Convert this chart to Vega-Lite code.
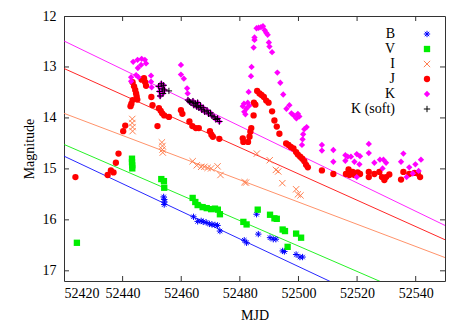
{
  "$schema": "https://vega.github.io/schema/vega-lite/v6.json",
  "width": 381,
  "height": 265,
  "autosize": "none",
  "padding": {"left": 64, "top": 16, "right": 22, "bottom": 46},
  "background": "white",
  "config": {
    "font": "Liberation Serif",
    "view": {"stroke": "#333", "strokeWidth": 1},
    "axis": {"grid": false, "domain": false, "ticks": false, "tickSize": 0, "labelFont": "Liberation Serif", "labelFontSize": 14, "labelColor": "black", "titleFont": "Liberation Serif", "titleFontSize": 14, "titleFontWeight": "normal", "titleColor": "black"},
    "legend": {"labelFont": "Liberation Serif", "labelFontSize": 14, "labelColor": "black", "orient": "none", "legendX": 356, "legendY": 11, "padding": 0, "labelAlign": "right", "labelOffset": -39, "symbolSize": 40, "symbolStrokeWidth": 1, "rowPadding": 1}
  },
  "datasets": {
    "xticks": [{"v": 52420}, {"v": 52440}, {"v": 52460}, {"v": 52480}, {"v": 52500}, {"v": 52520}, {"v": 52540}],
    "yticks": [{"v": 12}, {"v": 13}, {"v": 14}, {"v": 15}, {"v": 16}, {"v": 17}],
    "fits": [
      {"band": "K", "mjd": 52420, "mag": 12.49}, {"band": "K", "mjd": 52550, "mag": 16.11},
      {"band": "J", "mjd": 52420, "mag": 13.03}, {"band": "J", "mjd": 52550, "mag": 16.39},
      {"band": "I", "mjd": 52420, "mag": 13.91}, {"band": "I", "mjd": 52550, "mag": 16.74},
      {"band": "V", "mjd": 52420, "mag": 14.52}, {"band": "V", "mjd": 52550, "mag": 17.76},
      {"band": "B", "mjd": 52420, "mag": 14.75}, {"band": "B", "mjd": 52550, "mag": 18.27}
    ],
    "obs": [
      {"band":"B","mjd":52454.0,"mag":15.55},{"band":"B","mjd":52454.2,"mag":15.6},{"band":"B","mjd":52454.3,"mag":15.65},{"band":"B","mjd":52454.2,"mag":15.7},
      {"band":"B","mjd":52464.2,"mag":15.94},{"band":"B","mjd":52465.6,"mag":16.03},{"band":"B","mjd":52466.8,"mag":16.02},{"band":"B","mjd":52467.5,"mag":16.04},
      {"band":"B","mjd":52468.5,"mag":16.05},{"band":"B","mjd":52469.6,"mag":16.08},{"band":"B","mjd":52470.5,"mag":16.09},{"band":"B","mjd":52471.5,"mag":16.1},
      {"band":"B","mjd":52472.4,"mag":16.11},{"band":"B","mjd":52473.2,"mag":16.22},{"band":"B","mjd":52481.5,"mag":16.4},{"band":"B","mjd":52482.3,"mag":16.45},
      {"band":"B","mjd":52485.7,"mag":15.89},{"band":"B","mjd":52486.3,"mag":16.28},{"band":"B","mjd":52490.3,"mag":16.35},{"band":"B","mjd":52491.4,"mag":16.38},
      {"band":"B","mjd":52492.3,"mag":16.38},{"band":"B","mjd":52494.6,"mag":16.61},{"band":"B","mjd":52495.2,"mag":16.62},{"band":"B","mjd":52499.2,"mag":16.68},
      {"band":"B","mjd":52500.5,"mag":16.73},{"band":"B","mjd":52501.4,"mag":16.73},
      {"band":"V","mjd":52424.4,"mag":16.45},{"band":"V","mjd":52443.2,"mag":14.8},{"band":"V","mjd":52443.2,"mag":14.87},{"band":"V","mjd":52443.3,"mag":14.93},
      {"band":"V","mjd":52443.3,"mag":14.99},{"band":"V","mjd":52453.2,"mag":15.2},{"band":"V","mjd":52454.1,"mag":15.24},{"band":"V","mjd":52454.2,"mag":15.37},
      {"band":"V","mjd":52463.9,"mag":15.57},{"band":"V","mjd":52464.8,"mag":15.65},{"band":"V","mjd":52465.6,"mag":15.71},{"band":"V","mjd":52467.3,"mag":15.75},
      {"band":"V","mjd":52468.7,"mag":15.77},{"band":"V","mjd":52470.2,"mag":15.79},{"band":"V","mjd":52471.5,"mag":15.78},{"band":"V","mjd":52472.5,"mag":15.8},
      {"band":"V","mjd":52473.2,"mag":15.89},{"band":"V","mjd":52481.2,"mag":16.04},{"band":"V","mjd":52482.3,"mag":16.09},{"band":"V","mjd":52486.1,"mag":15.8},
      {"band":"V","mjd":52490.3,"mag":15.9},{"band":"V","mjd":52491.8,"mag":15.97},{"band":"V","mjd":52492.6,"mag":15.98},{"band":"V","mjd":52494.6,"mag":16.19},
      {"band":"V","mjd":52495.4,"mag":16.22},{"band":"V","mjd":52496.3,"mag":16.53},{"band":"V","mjd":52499.2,"mag":16.27},{"band":"V","mjd":52500.9,"mag":16.35},
      {"band":"I","mjd":52443.3,"mag":14.02},{"band":"I","mjd":52443.3,"mag":14.1},{"band":"I","mjd":52443.4,"mag":14.18},{"band":"I","mjd":52443.4,"mag":14.26},
      {"band":"I","mjd":52453.4,"mag":14.48},{"band":"I","mjd":52453.6,"mag":14.55},{"band":"I","mjd":52453.6,"mag":14.62},{"band":"I","mjd":52453.7,"mag":14.68},
      {"band":"I","mjd":52463.9,"mag":14.85},{"band":"I","mjd":52465.3,"mag":14.93},{"band":"I","mjd":52466.8,"mag":14.96},{"band":"I","mjd":52467.9,"mag":14.96},
      {"band":"I","mjd":52469.0,"mag":14.98},{"band":"I","mjd":52470.2,"mag":14.99},{"band":"I","mjd":52472.4,"mag":14.95},{"band":"I","mjd":52473.4,"mag":15.12},
      {"band":"I","mjd":52481.6,"mag":15.26},{"band":"I","mjd":52482.1,"mag":15.27},{"band":"I","mjd":52485.8,"mag":14.7},{"band":"I","mjd":52490.2,"mag":14.83},
      {"band":"I","mjd":52492.3,"mag":15.02},{"band":"I","mjd":52493.1,"mag":15.05},{"band":"I","mjd":52494.5,"mag":15.28},{"band":"I","mjd":52499.2,"mag":15.4},
      {"band":"I","mjd":52499.8,"mag":15.5},{"band":"I","mjd":52500.7,"mag":15.52},
      {"band":"J","mjd":52423.9,"mag":15.16},{"band":"J","mjd":52434.9,"mag":15.12},{"band":"J","mjd":52436.0,"mag":15.03},{"band":"J","mjd":52436.9,"mag":15.07},
      {"band":"J","mjd":52437.7,"mag":14.88},{"band":"J","mjd":52438.6,"mag":14.7},{"band":"J","mjd":52440.2,"mag":14.26},{"band":"J","mjd":52440.9,"mag":14.15},
      {"band":"J","mjd":52442.7,"mag":13.77},{"band":"J","mjd":52443.0,"mag":13.72},{"band":"J","mjd":52443.4,"mag":13.65},{"band":"J","mjd":52443.4,"mag":13.3},
      {"band":"J","mjd":52443.9,"mag":13.38},{"band":"J","mjd":52444.3,"mag":13.45},{"band":"J","mjd":52444.6,"mag":13.52},{"band":"J","mjd":52444.8,"mag":13.58},
      {"band":"J","mjd":52445.0,"mag":13.64},{"band":"J","mjd":52446.5,"mag":13.25},{"band":"J","mjd":52447.3,"mag":13.22},{"band":"J","mjd":52447.7,"mag":13.3},
      {"band":"J","mjd":52448.0,"mag":13.37},{"band":"J","mjd":52449.8,"mag":13.59},{"band":"J","mjd":52450.2,"mag":13.75},{"band":"J","mjd":52451.9,"mag":14.16},
      {"band":"J","mjd":52452.4,"mag":13.81},{"band":"J","mjd":52453.0,"mag":13.86},{"band":"J","mjd":52453.5,"mag":13.91},{"band":"J","mjd":52454.2,"mag":13.95},
      {"band":"J","mjd":52455.8,"mag":13.98},{"band":"J","mjd":52459.9,"mag":13.85},{"band":"J","mjd":52460.4,"mag":13.92},{"band":"J","mjd":52462.8,"mag":14.07},
      {"band":"J","mjd":52463.8,"mag":14.16},{"band":"J","mjd":52465.0,"mag":14.2},{"band":"J","mjd":52466.0,"mag":14.2},{"band":"J","mjd":52469.8,"mag":14.26},
      {"band":"J","mjd":52470.3,"mag":14.33},{"band":"J","mjd":52470.8,"mag":14.37},{"band":"J","mjd":52473.0,"mag":14.41},{"band":"J","mjd":52481.0,"mag":14.4},
      {"band":"J","mjd":52481.2,"mag":14.47},{"band":"J","mjd":52482.8,"mag":14.47},{"band":"J","mjd":52483.3,"mag":14.37},{"band":"J","mjd":52483.6,"mag":14.27},
      {"band":"J","mjd":52483.9,"mag":14.2},{"band":"J","mjd":52484.7,"mag":13.95},{"band":"J","mjd":52484.8,"mag":13.7},{"band":"J","mjd":52485.3,"mag":13.74},
      {"band":"J","mjd":52485.9,"mag":13.47},{"band":"J","mjd":52486.7,"mag":13.52},{"band":"J","mjd":52487.4,"mag":13.55},{"band":"J","mjd":52488.2,"mag":13.59},
      {"band":"J","mjd":52489.0,"mag":13.66},{"band":"J","mjd":52489.8,"mag":13.7},{"band":"J","mjd":52491.0,"mag":13.87},{"band":"J","mjd":52491.8,"mag":14.05},
      {"band":"J","mjd":52492.6,"mag":14.17},{"band":"J","mjd":52493.5,"mag":14.31},{"band":"J","mjd":52495.8,"mag":14.5},{"band":"J","mjd":52496.6,"mag":14.53},
      {"band":"J","mjd":52497.4,"mag":14.57},{"band":"J","mjd":52498.3,"mag":14.6},{"band":"J","mjd":52499.2,"mag":14.67},{"band":"J","mjd":52499.8,"mag":14.72},
      {"band":"J","mjd":52500.6,"mag":14.76},{"band":"J","mjd":52501.3,"mag":14.8},{"band":"J","mjd":52502.0,"mag":14.85},{"band":"J","mjd":52502.6,"mag":14.92},
      {"band":"J","mjd":52503.2,"mag":14.97},{"band":"J","mjd":52508.0,"mag":15.03},{"band":"J","mjd":52511.9,"mag":15.1},{"band":"J","mjd":52516.2,"mag":15.1},
      {"band":"J","mjd":52517.1,"mag":15.01},{"band":"J","mjd":52517.4,"mag":15.12},{"band":"J","mjd":52518.5,"mag":15.06},{"band":"J","mjd":52519.1,"mag":15.12},
      {"band":"J","mjd":52520.2,"mag":15.07},{"band":"J","mjd":52521.0,"mag":15.1},{"band":"J","mjd":52524.0,"mag":15.06},{"band":"J","mjd":52524.0,"mag":15.16},
      {"band":"J","mjd":52525.9,"mag":15.1},{"band":"J","mjd":52527.6,"mag":15.06},{"band":"J","mjd":52528.5,"mag":15.16},{"band":"J","mjd":52529.3,"mag":15.22},
      {"band":"J","mjd":52529.9,"mag":15.16},{"band":"J","mjd":52531.0,"mag":15.11},{"band":"J","mjd":52535.0,"mag":15.21},{"band":"J","mjd":52535.8,"mag":15.06},
      {"band":"J","mjd":52537.8,"mag":15.1},{"band":"J","mjd":52539.6,"mag":15.08},{"band":"J","mjd":52540.7,"mag":15.09},{"band":"J","mjd":52541.5,"mag":15.16},
      {"band":"K","mjd":52442.9,"mag":13.2},{"band":"K","mjd":52442.9,"mag":13.28},{"band":"K","mjd":52443.6,"mag":12.9},{"band":"K","mjd":52444.6,"mag":13.16},
      {"band":"K","mjd":52445.1,"mag":12.86},{"band":"K","mjd":52445.2,"mag":13.02},{"band":"K","mjd":52445.4,"mag":13.2},{"band":"K","mjd":52446.3,"mag":12.96},
      {"band":"K","mjd":52446.5,"mag":12.84},{"band":"K","mjd":52447.6,"mag":12.86},{"band":"K","mjd":52448.0,"mag":12.93},{"band":"K","mjd":52449.7,"mag":13.17},
      {"band":"K","mjd":52449.7,"mag":13.29},{"band":"K","mjd":52449.9,"mag":13.4},
      {"band":"K","mjd":52452.3,"mag":13.38},{"band":"K","mjd":52452.6,"mag":13.48},{"band":"K","mjd":52452.8,"mag":13.57},{"band":"K","mjd":52453.2,"mag":13.33},
      {"band":"K","mjd":52453.5,"mag":13.43},{"band":"K","mjd":52453.8,"mag":13.52},{"band":"K","mjd":52454.0,"mag":13.36},{"band":"K","mjd":52454.3,"mag":13.45},
      {"band":"K","mjd":52459.9,"mag":12.96},{"band":"K","mjd":52459.9,"mag":13.15},{"band":"K","mjd":52460.9,"mag":13.23},{"band":"K","mjd":52462.0,"mag":13.42},
      {"band":"K","mjd":52462.2,"mag":13.52},
      {"band":"K","mjd":52462.3,"mag":13.65},{"band":"K","mjd":52462.8,"mag":13.68},{"band":"K","mjd":52463.3,"mag":13.7},{"band":"K","mjd":52464.0,"mag":13.67},
      {"band":"K","mjd":52464.3,"mag":13.75},{"band":"K","mjd":52464.8,"mag":13.72},{"band":"K","mjd":52465.3,"mag":13.78},{"band":"K","mjd":52465.6,"mag":13.7},
      {"band":"K","mjd":52466.0,"mag":13.8},{"band":"K","mjd":52466.6,"mag":13.76},{"band":"K","mjd":52467.0,"mag":13.84},{"band":"K","mjd":52467.5,"mag":13.8},
      {"band":"K","mjd":52468.0,"mag":13.88},{"band":"K","mjd":52468.8,"mag":13.85},{"band":"K","mjd":52469.3,"mag":13.92},{"band":"K","mjd":52470.0,"mag":13.9},
      {"band":"K","mjd":52470.5,"mag":13.96},{"band":"K","mjd":52471.2,"mag":13.98},{"band":"K","mjd":52471.8,"mag":14.03},{"band":"K","mjd":52472.4,"mag":14.01},
      {"band":"K","mjd":52473.0,"mag":14.07},
      {"band":"K","mjd":52481.0,"mag":13.77},{"band":"K","mjd":52481.4,"mag":13.72},{"band":"K","mjd":52481.5,"mag":13.88},{"band":"K","mjd":52481.9,"mag":13.93},
      {"band":"K","mjd":52482.2,"mag":13.82},{"band":"K","mjd":52482.7,"mag":13.7},{"band":"K","mjd":52483.0,"mag":13.49},{"band":"K","mjd":52483.2,"mag":13.76},
      {"band":"K","mjd":52483.8,"mag":13.18},{"band":"K","mjd":52484.0,"mag":13.0},{"band":"K","mjd":52484.7,"mag":12.62},{"band":"K","mjd":52485.0,"mag":12.47},
      {"band":"K","mjd":52485.0,"mag":12.42},{"band":"K","mjd":52485.7,"mag":12.24},{"band":"K","mjd":52486.4,"mag":12.23},{"band":"K","mjd":52487.2,"mag":12.22},
      {"band":"K","mjd":52487.9,"mag":12.2},{"band":"K","mjd":52488.5,"mag":12.28},{"band":"K","mjd":52489.0,"mag":12.33},{"band":"K","mjd":52489.5,"mag":12.37},
      {"band":"K","mjd":52489.9,"mag":12.52},{"band":"K","mjd":52490.1,"mag":12.6},{"band":"K","mjd":52491.0,"mag":12.71},{"band":"K","mjd":52492.8,"mag":13.11},
      {"band":"K","mjd":52493.8,"mag":13.31},{"band":"K","mjd":52494.8,"mag":13.54},{"band":"K","mjd":52495.9,"mag":13.82},{"band":"K","mjd":52496.9,"mag":13.75},
      {"band":"K","mjd":52497.6,"mag":13.91},{"band":"K","mjd":52498.4,"mag":13.95},{"band":"K","mjd":52499.3,"mag":14.01},{"band":"K","mjd":52499.8,"mag":13.92},
      {"band":"K","mjd":52500.3,"mag":13.97},{"band":"K","mjd":52501.2,"mag":14.53},{"band":"K","mjd":52501.4,"mag":14.42},{"band":"K","mjd":52501.6,"mag":14.32},
      {"band":"K","mjd":52502.0,"mag":14.22},{"band":"K","mjd":52502.8,"mag":14.18},{"band":"K","mjd":52508.0,"mag":14.53},{"band":"K","mjd":52508.0,"mag":14.64},
      {"band":"K","mjd":52511.9,"mag":14.63},{"band":"K","mjd":52511.9,"mag":14.86},{"band":"K","mjd":52516.0,"mag":14.73},{"band":"K","mjd":52516.0,"mag":14.84},
      {"band":"K","mjd":52516.8,"mag":14.76},{"band":"K","mjd":52517.9,"mag":14.76},{"band":"K","mjd":52519.1,"mag":14.86},{"band":"K","mjd":52519.9,"mag":14.71},
      {"band":"K","mjd":52521.0,"mag":14.75},{"band":"K","mjd":52520.8,"mag":14.91},{"band":"K","mjd":52519.9,"mag":15.16},{"band":"K","mjd":52524.0,"mag":14.51},
      {"band":"K","mjd":52524.0,"mag":14.69},{"band":"K","mjd":52525.9,"mag":14.88},{"band":"K","mjd":52527.8,"mag":14.82},{"band":"K","mjd":52529.0,"mag":14.82},
      {"band":"K","mjd":52529.9,"mag":14.88},{"band":"K","mjd":52528.7,"mag":14.99},{"band":"K","mjd":52535.0,"mag":14.86},{"band":"K","mjd":52535.8,"mag":14.7},
      {"band":"K","mjd":52536.9,"mag":15.16},{"band":"K","mjd":52537.8,"mag":14.97},{"band":"K","mjd":52539.9,"mag":14.91},{"band":"K","mjd":52541.0,"mag":15.04},
      {"band":"K","mjd":52541.8,"mag":14.82},{"band":"K","mjd":52539.0,"mag":15.09},
      {"band":"K (soft)","mjd":52452.3,"mag":13.38},{"band":"K (soft)","mjd":52452.6,"mag":13.48},{"band":"K (soft)","mjd":52452.8,"mag":13.57},{"band":"K (soft)","mjd":52453.2,"mag":13.33},
      {"band":"K (soft)","mjd":52453.5,"mag":13.43},{"band":"K (soft)","mjd":52453.8,"mag":13.52},{"band":"K (soft)","mjd":52454.0,"mag":13.36},{"band":"K (soft)","mjd":52454.3,"mag":13.45},
      {"band":"K (soft)","mjd":52455.8,"mag":13.47},
      {"band":"K (soft)","mjd":52462.3,"mag":13.65},{"band":"K (soft)","mjd":52462.8,"mag":13.68},{"band":"K (soft)","mjd":52463.3,"mag":13.7},{"band":"K (soft)","mjd":52464.0,"mag":13.67},
      {"band":"K (soft)","mjd":52464.3,"mag":13.75},{"band":"K (soft)","mjd":52464.8,"mag":13.72},{"band":"K (soft)","mjd":52465.3,"mag":13.78},{"band":"K (soft)","mjd":52465.6,"mag":13.7},
      {"band":"K (soft)","mjd":52466.0,"mag":13.8},{"band":"K (soft)","mjd":52466.6,"mag":13.76},{"band":"K (soft)","mjd":52467.0,"mag":13.84},{"band":"K (soft)","mjd":52467.5,"mag":13.8},
      {"band":"K (soft)","mjd":52468.0,"mag":13.88},{"band":"K (soft)","mjd":52468.8,"mag":13.85},{"band":"K (soft)","mjd":52469.3,"mag":13.92},{"band":"K (soft)","mjd":52470.0,"mag":13.9},
      {"band":"K (soft)","mjd":52470.5,"mag":13.96},{"band":"K (soft)","mjd":52471.2,"mag":13.98},{"band":"K (soft)","mjd":52471.8,"mag":14.03},{"band":"K (soft)","mjd":52472.4,"mag":14.01},
      {"band":"K (soft)","mjd":52473.0,"mag":14.07}
    ]
  },
  "layer": [
    {
      "mark": {"type": "rule", "color": "#999", "strokeWidth": 1, "strokeDash": [1, 2]},
      "encoding": {
        "x": {"datum": 52490, "type": "quantitative", "axis": null}
      }
    },
    {
      "data": {"name": "xticks"},
      "mark": {"type": "tick", "orient": "vertical", "size": 10, "thickness": 1, "color": "#333", "opacity": 1, "clip": true},
      "encoding": {
        "x": {"field": "v", "type": "quantitative", "axis": null},
        "y": {"datum": 17.2, "type": "quantitative", "axis": null}
      }
    },
    {
      "data": {"name": "xticks"},
      "mark": {"type": "tick", "orient": "vertical", "size": 10, "thickness": 1, "color": "#333", "opacity": 1, "clip": true},
      "encoding": {
        "x": {"field": "v", "type": "quantitative", "axis": null},
        "y": {"datum": 12, "type": "quantitative", "axis": null}
      }
    },
    {
      "data": {"name": "yticks"},
      "mark": {"type": "tick", "orient": "horizontal", "size": 10, "thickness": 1, "color": "#333", "opacity": 1, "clip": true},
      "encoding": {
        "y": {"field": "v", "type": "quantitative", "axis": null},
        "x": {"datum": 52420, "type": "quantitative", "axis": null}
      }
    },
    {
      "data": {"name": "yticks"},
      "mark": {"type": "tick", "orient": "horizontal", "size": 10, "thickness": 1, "color": "#333", "opacity": 1, "clip": true},
      "encoding": {
        "y": {"field": "v", "type": "quantitative", "axis": null},
        "x": {"datum": 52550, "type": "quantitative", "axis": null}
      }
    },
    {
      "data": {"name": "fits"},
      "mark": {"type": "line", "strokeWidth": 1, "clip": true, "opacity": 0.85},
      "encoding": {
        "x": {"field": "mjd", "type": "quantitative", "axis": null},
        "y": {"field": "mag", "type": "quantitative", "axis": null},
        "color": {"field": "band", "type": "nominal", "legend": null, "scale": {"domain": ["B", "V", "I", "J", "K"], "range": ["#0000ff", "#00ee00", "#ff7f50", "#ff0000", "#ff00ff"]}}
      }
    },
    {
      "data": {"name": "obs"},
      "mark": {"type": "point", "opacity": 1, "strokeWidth": 1, "size": 40, "clip": true},
      "encoding": {
        "x": {"field": "mjd", "type": "quantitative", "scale": {"domain": [52420, 52550], "nice": false, "zero": false}, "axis": {"orient": "bottom", "title": "MJD", "format": "d", "values": [52420, 52440, 52460, 52480, 52500, 52520, 52540], "labelPadding": 5, "titlePadding": 8}},
        "y": {"field": "mag", "type": "quantitative", "scale": {"domain": [12, 17.2], "nice": false, "zero": false, "reverse": true}, "axis": {"orient": "left", "title": "Magnitude", "values": [12, 13, 14, 15, 16, 17], "labelPadding": 8, "titlePadding": 6}},
        "shape": {"field": "band", "type": "nominal", "title": null, "scale": {"domain": ["B", "V", "I", "J", "K", "K (soft)"], "range": ["M-1,0L1,0M0,-1L0,1M-0.7,-0.7L0.7,0.7M-0.7,0.7L0.7,-0.7", "square", "M-1,-1L1,1M-1,1L1,-1", "circle", "diamond", "M-1,0L1,0M0,-1L0,1"]}},
        "fill": {"field": "band", "type": "nominal", "title": null, "scale": {"domain": ["B", "V", "I", "J", "K", "K (soft)"], "range": ["transparent", "#00ee00", "transparent", "#ff0000", "#ff00ff", "transparent"]}},
        "stroke": {"field": "band", "type": "nominal", "title": null, "scale": {"domain": ["B", "V", "I", "J", "K", "K (soft)"], "range": ["#0000ff", "transparent", "#ff7f50", "transparent", "transparent", "#000000"]}}
      }
    }
  ],
  "resolve": {"axis": {"x": "independent", "y": "independent"}}
}
